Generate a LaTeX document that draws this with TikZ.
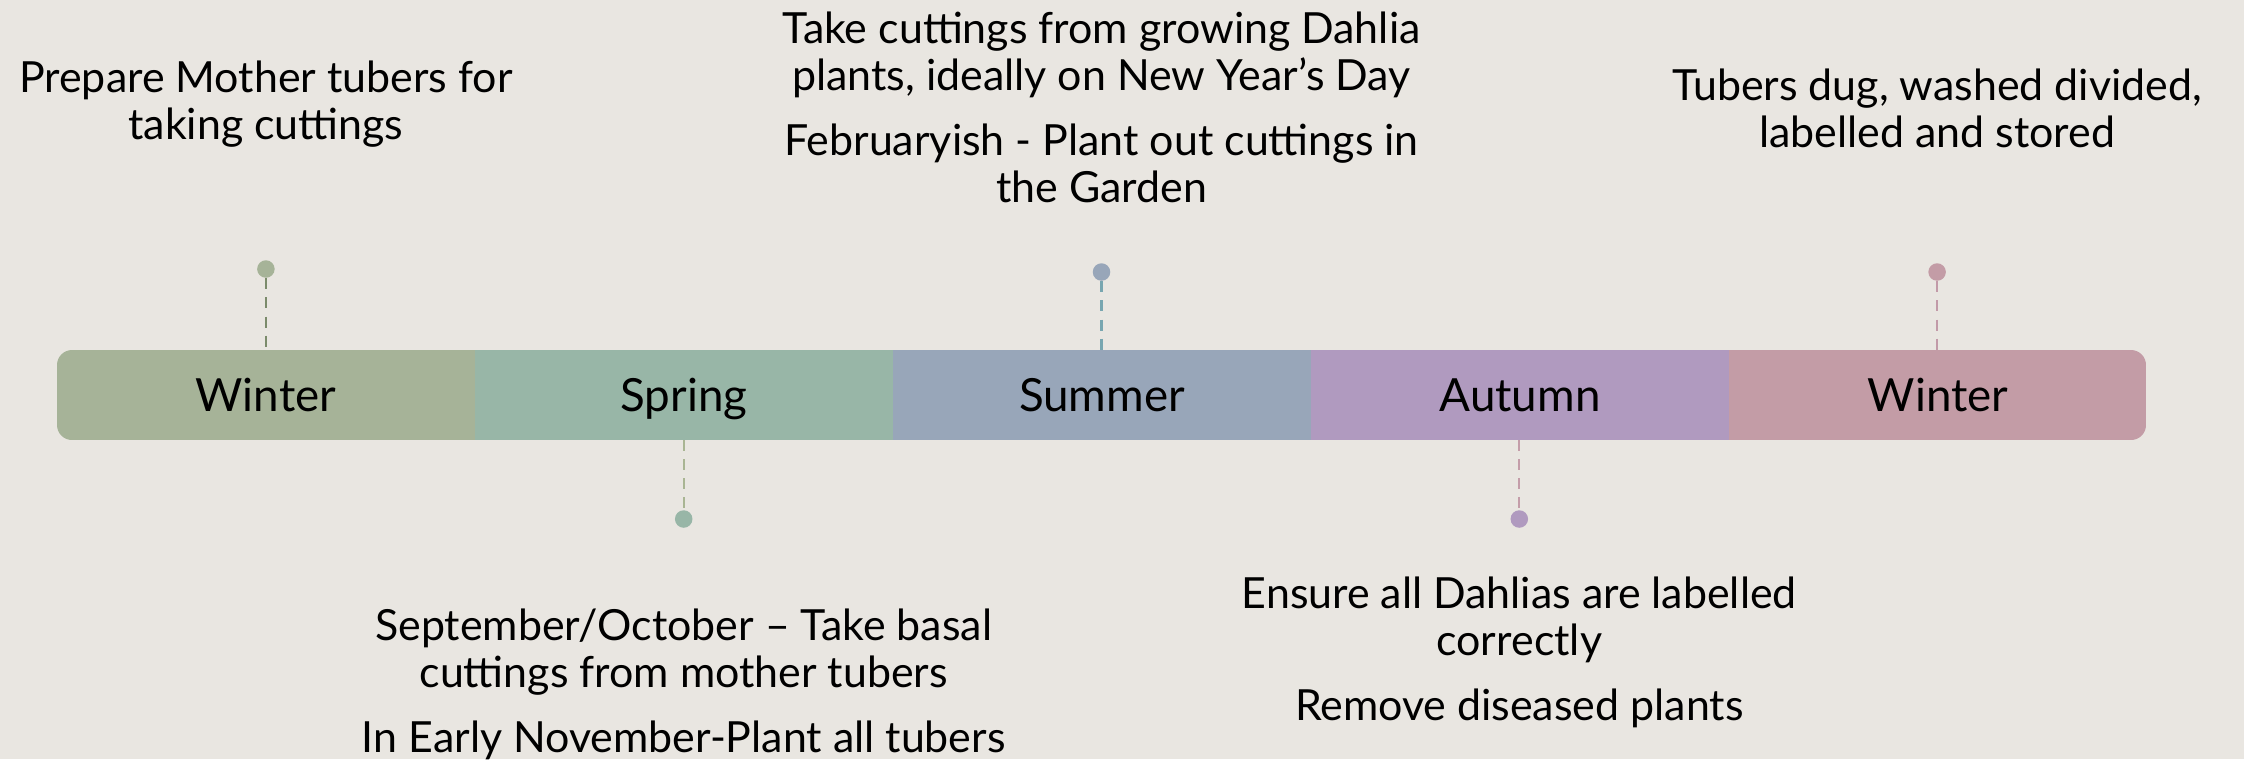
\documentclass[tikz,border=0pt]{standalone}
\usepackage{fontspec}
\setmainfont{Lato}
\usepackage{xcolor}
\usepackage{tikz}
\usetikzlibrary{positioning}

\definecolor{paper}{HTML}{E9E6E1}
\definecolor{sage}{HTML}{A6B398}
\definecolor{seafoam}{HTML}{98B6A7}
\definecolor{slate}{HTML}{98A6B9}
\definecolor{lilac}{HTML}{B09ABF}
\definecolor{rose}{HTML}{C39CA6}
\definecolor{sageline}{HTML}{7B8B6B}
\definecolor{seafoamline}{HTML}{A9B593}
\definecolor{slateline}{HTML}{78A6B0}
\definecolor{lilacline}{HTML}{C49DA9}
\definecolor{roseline}{HTML}{C29AA8}

\begin{document}
\begin{tikzpicture}[x=0.01cm,y=-0.01cm,node distance=0pt]
  \tikzstyle{season}=[inner sep=0pt,outer sep=0pt,minimum width=4.178cm,minimum height=0.9cm,text height=9.4pt,text depth=0pt,font=\fontsize{13}{15}\selectfont]
  \tikzstyle{bead}=[circle,inner sep=0pt,minimum size=0.175cm]
  \tikzstyle{stem}=[line width=0.6pt,dash pattern=on 0.11cm off 0.08cm]
  \tikzstyle{notetext}=[align=center,inner sep=0pt,anchor=north,font=\fontsize{12.2}{13.4}\selectfont]
  \useasboundingbox (0,0) rectangle (2244,759);
  \fill[paper] (0,0) rectangle (2244,759);
  % the year bar
  \begin{scope}
    \clip[rounded corners=0.15cm] (57,350) rectangle (2146,440);
    \node[season,fill=sage] (winterA) at (265.9,395) {Winter};
    \node[season,fill=seafoam,right=of winterA] (spring) {Spring};
    \node[season,fill=slate,right=of spring] (summer) {Summer};
    \node[season,fill=lilac,right=of summer] (autumn) {Autumn};
    \node[season,fill=rose,right=of autumn] (winterB) {Winter};
  \end{scope}
  % markers
  \node[bead,fill=sage] (bwinterA) at (265.9,269) {};
  \node[bead,fill=seafoam] (bspring) at (683.7,519) {};
  \node[bead,fill=slate] (bsummer) at (1101.5,272) {};
  \node[bead,fill=lilac] (bautumn) at (1519.3,519) {};
  \node[bead,fill=rose] (bwinterB) at (1937.1,272) {};
  \draw[stem,sageline] (bwinterA) -- (bwinterA |- winterA.north);
  \draw[stem,seafoamline] (bspring |- spring.south) -- (bspring);
  \draw[stem,slateline] (bsummer) -- (bsummer |- summer.north);
  \draw[stem,lilacline] (bautumn |- autumn.south) -- (bautumn);
  \draw[stem,roseline] (bwinterB) -- (bwinterB |- winterB.north);
  % notes
  \node[notetext] (nwinterA) at (265.9,60) {Prepare Mother tubers for\\taking cuttings};
  \node[notetext] (nsummer) at (1101.5,11) {Take cuttings from growing Dahlia\\plants, ideally on New Year’s Day\\[5pt]Februaryish - Plant out cuttings in\\the Garden};
  \node[notetext] (nwinterB) at (1937.1,68) {Tubers dug, washed divided,\\labelled and stored};
  \node[notetext] (nspring) at (683.7,608) {September/October – Take basal\\cuttings from mother tubers\\[5pt]In Early November-Plant all tubers};
  \node[notetext] (nautumn) at (1519.3,576) {Ensure all Dahlias are labelled\\correctly\\[5pt]Remove diseased plants};
\end{tikzpicture}
\end{document}
